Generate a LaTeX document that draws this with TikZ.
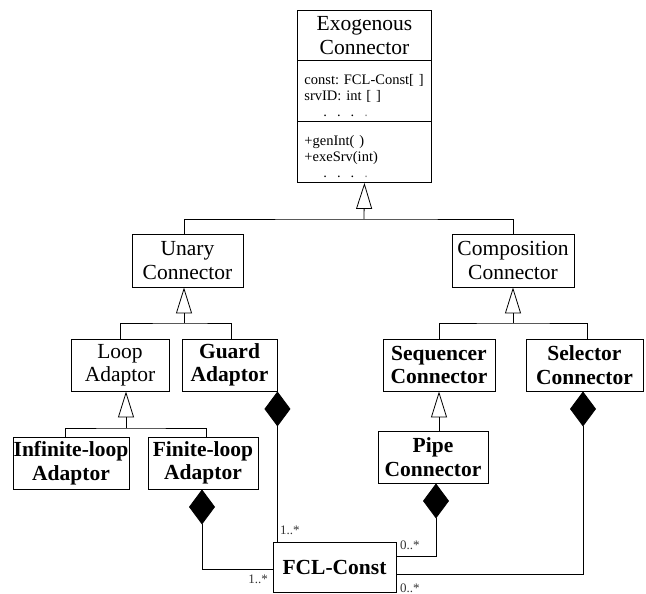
\documentclass[tikz,border=0pt]{standalone}
\usepackage{fontspec}
\setmainfont{Liberation Serif}
\usetikzlibrary{arrows.meta}
\frenchspacing

\tikzset{
  cls/.style={draw, line width=0.9pt, inner sep=0pt, align=center,
    font=\fontsize{21.5}{23.5}\selectfont},
  clsb/.style={cls, font=\fontsize{21.5}{23.5}\selectfont\bfseries},
  part/.style={draw, line width=0.9pt, inner xsep=2pt, inner ysep=0pt,
    anchor=north west, minimum width=134pt, text width=130pt, align=left,
    font=\fontsize{14.5}{16}\selectfont},
  wire/.style={line width=0.8pt},
  gen/.style={wire, -{Triangle[open, length=26pt, width=16pt, line width=0.8pt]}},
  agg/.style={wire, {Diamond[length=35pt, width=26pt]}-},
  mult/.style={font=\fontsize{13}{13}\selectfont, text=black!80, inner sep=0pt}
}

% compartment line, indented from the box edge
\newcommand{\cl}[1]{\hspace*{5pt}#1}
% first compartment line, with extra room above it
\newcommand{\clfirst}[1]{\rule{0pt}{19pt}\hspace*{5pt}#1}
\newcommand{\ellip}{\hspace*{24pt}.\hspace{10pt}.\hspace{10pt}.\hspace{10pt}\textcolor{black!45}{.}}

\begin{document}
\begin{tikzpicture}[x=1pt, y=-1pt]
\useasboundingbox (0,0) rectangle (646,594);

% root class with its three compartments
\node[part, align=center, minimum height=50pt,
  font=\fontsize{21.5}{23.5}\selectfont] (exoT) at (297,10) {Exogenous\\Connector};
\node[part, minimum height=60.7pt] (exoA) at (297,60)
  {\clfirst{const: FCL-Const[ ]}\\\cl{srvID: int [ ]}\\\ellip};
\node[part, minimum height=61.3pt] (exoO) at (297,120.7)
  {\clfirst{+genInt( )}\\\cl{+exeSrv(int)}\\\ellip};

% second level
\node[cls, minimum width=111pt, minimum height=53pt] (unary) at (187.5,260.5) {Unary\\Connector};
\node[cls, minimum width=122pt, minimum height=53pt] (comp) at (513,260.5) {Composition\\Connector};

% third level
\node[cls,  minimum width=98pt,  minimum height=52pt] (loop)  at (120,365)   {Loop\\Adaptor};
\node[clsb, minimum width=95pt,  minimum height=52pt] (guard) at (229.5,365) {Guard\\Adaptor};
\node[clsb, minimum width=112pt, minimum height=52pt] (seq)   at (439,365)   {Sequencer\\Connector};
\node[clsb, minimum width=117pt, minimum height=52pt] (sel)   at (584.5,365) {Selector\\Connector};

% fourth level
\node[clsb, minimum width=116pt, minimum height=52pt] (inf)  at (71,463)  {Infinite-loop\\Adaptor};
\node[clsb, minimum width=110pt, minimum height=52pt] (fin)  at (203,463) {Finite-loop\\Adaptor};
\node[clsb, minimum width=110pt, minimum height=52pt] (pipe) at (433,457) {Pipe\\Connector};

% constraint class
\node[clsb, minimum width=123pt, minimum height=50pt] (fcl) at (334.5,567) {FCL-Const};

% generalisation buses
\coordinate (b0) at (364,219);
\coordinate (b1) at (184,323);
\coordinate (b2) at (513,323);
\coordinate (b3) at (126,428);

\draw[wire] ([xshift=-3.5pt]unary.north) |- (b0) -| (comp.north);
\draw[gen] (b0) -- (exoO.south);

\draw[wire] (loop.north) |- (b1) -| ([xshift=1.5pt]guard.north);
\draw[gen] (b1) -- ([xshift=-3.5pt]unary.south);

\draw[wire] (seq.north) |- (b2) -| ([xshift=2.5pt]sel.north);
\draw[gen] (b2) -- (comp.south);

\draw[wire] ([xshift=-6pt]inf.north) |- (b3) -| ([xshift=3pt]fin.north);
\draw[gen] (b3) -- ([xshift=6pt]loop.south);

\draw[gen] ([xshift=6pt]pipe.north) -- (seq.south);

% compositions with the constraint class
\draw[agg] (guard.south east) -- (guard.south east |- fcl.north);
\draw[agg] ([xshift=-1pt]fin.south) |- ([yshift=-2pt]fcl.west);
\draw[agg] ([xshift=3pt]pipe.south) |- ([yshift=11pt]fcl.east);
\draw[agg] ([xshift=-1.5pt]sel.south) |- ([yshift=-7pt]fcl.east);

% multiplicities
\node[mult, anchor=west] (m1) at (280,530) {1..*};
\node[mult, anchor=east] (m2) at (268,579) {1..*};
\node[mult, anchor=west] (m3) at (400,545) {0..*};
\node[mult, anchor=west] (m4) at (400,588) {0..*};
\end{tikzpicture}
\end{document}
